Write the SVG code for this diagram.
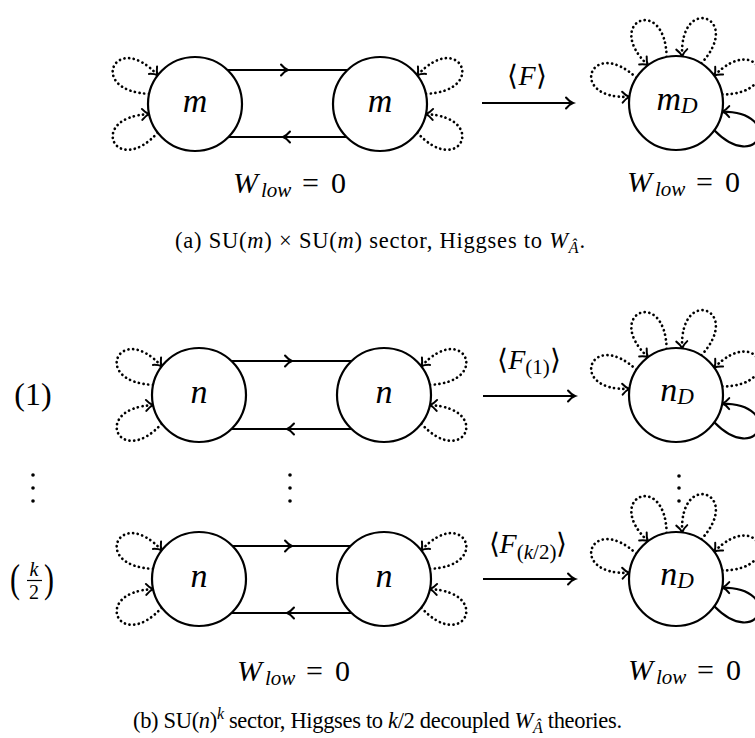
<svg xmlns="http://www.w3.org/2000/svg" width="755" height="738" viewBox="0 0 755 738">
<style>
.nd{fill:#fff;stroke:#000;stroke-width:2.2}
.ln{fill:none;stroke:#000;stroke-width:2.2}
.mid{marker-mid:url(#ah)}
.dt{fill:none;stroke:#000;stroke-width:2.7;stroke-dasharray:0.1 4.6;stroke-linecap:round;marker-end:url(#ah)}
.sl{fill:none;stroke:#000;stroke-width:2.2;marker-end:url(#ah)}
text{font-family:"Liberation Serif","Times New Roman",serif;fill:#000}
.i{font-style:italic}
.dot{fill:#000}
</style>
<defs>
<marker id="ah" markerUnits="userSpaceOnUse" markerWidth="14" markerHeight="14" refX="0" refY="0" orient="auto" overflow="visible">
<path d="M-7,-5.5 C-4.5,-2.5 -2,-0.7 0,0 C-2,0.7 -4.5,2.5 -7,5.5" fill="none" stroke="#000" stroke-width="2" stroke-linecap="round" stroke-dasharray="none"/>
</marker>
<path id="lp" d="M45.9,-10.2 C104,-34.5 104,34.5 45.9,10.2"/>
</defs>

<g id="connectors">
<!-- (a) row -->
<path class="ln mid" d="M228,70 H288 H347"/>
<path class="ln mid" d="M347,137 H283 H228"/>
<path class="sl" d="M482,103 H573"/>
<use href="#lp" class="dt" transform="translate(195,104) rotate(-155)"/>
<use href="#lp" class="dt" transform="translate(195,104) rotate(155)"/>
<use href="#lp" class="dt" transform="translate(380,104) rotate(-25) scale(1,-1)"/>
<use href="#lp" class="dt" transform="translate(380,104) rotate(25) scale(1,-1)"/>
<use href="#lp" class="dt" transform="translate(676,103) rotate(-160) scale(1,-1)"/>
<use href="#lp" class="dt" transform="translate(676,103) rotate(-114) scale(1,-1)"/>
<use href="#lp" class="dt" transform="translate(676,103) rotate(-70) scale(1,-1)"/>
<use href="#lp" class="dt" transform="translate(676,103) rotate(-23) scale(1,-1)"/>
<use href="#lp" class="sl" transform="translate(676,103) rotate(23) scale(1,-1)"/>
<!-- (b) row 1 -->
<path class="ln mid" d="M232,361 H292 H351"/>
<path class="ln mid" d="M351,429 H287 H232"/>
<path class="sl" d="M483,396 H575"/>
<use href="#lp" class="dt" transform="translate(199,395) rotate(-155)"/>
<use href="#lp" class="dt" transform="translate(199,395) rotate(155)"/>
<use href="#lp" class="dt" transform="translate(384,395) rotate(-25) scale(1,-1)"/>
<use href="#lp" class="dt" transform="translate(384,395) rotate(25) scale(1,-1)"/>
<use href="#lp" class="dt" transform="translate(676,395) rotate(-160) scale(1,-1)"/>
<use href="#lp" class="dt" transform="translate(676,395) rotate(-114) scale(1,-1)"/>
<use href="#lp" class="dt" transform="translate(676,395) rotate(-70) scale(1,-1)"/>
<use href="#lp" class="dt" transform="translate(676,395) rotate(-23) scale(1,-1)"/>
<use href="#lp" class="sl" transform="translate(676,395) rotate(23) scale(1,-1)"/>
<!-- (b) row k/2 -->
<path class="ln mid" d="M232,546 H292 H351"/>
<path class="ln mid" d="M351,613 H287 H232"/>
<path class="sl" d="M483,579 H575"/>
<use href="#lp" class="dt" transform="translate(199,579) rotate(-155)"/>
<use href="#lp" class="dt" transform="translate(199,579) rotate(155)"/>
<use href="#lp" class="dt" transform="translate(384,579) rotate(-25) scale(1,-1)"/>
<use href="#lp" class="dt" transform="translate(384,579) rotate(25) scale(1,-1)"/>
<use href="#lp" class="dt" transform="translate(676,579) rotate(-160) scale(1,-1)"/>
<use href="#lp" class="dt" transform="translate(676,579) rotate(-114) scale(1,-1)"/>
<use href="#lp" class="dt" transform="translate(676,579) rotate(-70) scale(1,-1)"/>
<use href="#lp" class="dt" transform="translate(676,579) rotate(-23) scale(1,-1)"/>
<use href="#lp" class="sl" transform="translate(676,579) rotate(23) scale(1,-1)"/>
</g>

<!-- nodes (a) -->
<g id="a-m1"><circle class="nd" cx="195" cy="104" r="47"/><text class="i" style="font-size:34px" x="195" y="112" text-anchor="middle">m</text></g>
<g id="a-m2"><circle class="nd" cx="380" cy="104" r="47"/><text class="i" style="font-size:34px" x="380" y="112" text-anchor="middle">m</text></g>
<g id="a-mD"><circle class="nd" cx="676" cy="103" r="47"/><text class="i" style="font-size:34px" x="677" y="110" text-anchor="middle">m<tspan style="font-size:23px" dy="3">D</tspan></text></g>
<g id="a-F"><text style="font-size:28px" x="527" y="85" text-anchor="middle">⟨<tspan class="i">F</tspan>⟩</text></g>
<g id="a-W1"><text class="i" style="font-size:30px" x="233" y="193">W</text><text class="i" style="font-size:21px" x="261" y="197">low</text><text style="font-size:30px" x="310.5" y="193" text-anchor="middle">=</text><text style="font-size:30px" x="338.5" y="193" text-anchor="middle">0</text></g>
<g id="a-W2"><text class="i" style="font-size:30px" x="627" y="192">W</text><text class="i" style="font-size:21px" x="655" y="196">low</text><text style="font-size:30px" x="704.5" y="192" text-anchor="middle">=</text><text style="font-size:30px" x="732.5" y="192" text-anchor="middle">0</text></g>
<g id="cap-a"><text style="font-size:22.5px" x="175" y="248" textLength="410" lengthAdjust="spacing">(a) SU(<tspan class="i">m</tspan>) × SU(<tspan class="i">m</tspan>) sector, Higgses to <tspan class="i">W</tspan><tspan class="i" style="font-size:16px" dy="5">Â</tspan><tspan dy="-5">.</tspan></text></g>

<!-- nodes (b) row 1 -->
<g id="b1-label"><text style="font-size:32px" x="33" y="405" text-anchor="middle">(1)</text></g>
<g id="b1-n1"><circle class="nd" cx="199" cy="395" r="47"/><text class="i" style="font-size:34px" x="199" y="403" text-anchor="middle">n</text></g>
<g id="b1-n2"><circle class="nd" cx="384" cy="395" r="47"/><text class="i" style="font-size:34px" x="384" y="403" text-anchor="middle">n</text></g>
<g id="b1-nD"><circle class="nd" cx="676" cy="395" r="47"/><text class="i" style="font-size:34px" x="677" y="401" text-anchor="middle">n<tspan style="font-size:23px" dy="3">D</tspan></text></g>
<g id="b1-F"><text style="font-size:28px" x="529" y="369" text-anchor="middle">⟨<tspan class="i">F</tspan><tspan style="font-size:21px" dy="5">(1)</tspan><tspan dy="-5">⟩</tspan></text></g>

<!-- vertical dots -->
<g id="vdots">
<circle class="dot" cx="33" cy="475" r="1.8"/><circle class="dot" cx="33" cy="488" r="1.8"/><circle class="dot" cx="33" cy="501" r="1.8"/>
<circle class="dot" cx="290" cy="475" r="1.8"/><circle class="dot" cx="290" cy="488" r="1.8"/><circle class="dot" cx="290" cy="501" r="1.8"/>
<circle class="dot" cx="679" cy="476" r="1.8"/><circle class="dot" cx="679" cy="488" r="1.8"/><circle class="dot" cx="679" cy="501" r="1.8"/>
</g>

<!-- nodes (b) row k/2 -->
<g id="b2-label"><text style="font-size:30px" x="15" y="0" text-anchor="middle" transform="translate(0,592) scale(1,1.35)">(</text><text class="i" style="font-size:20px" x="34" y="576" text-anchor="middle">k</text><line x1="27" y1="580.5" x2="42" y2="580.5" stroke="#000" stroke-width="1.2"/><text style="font-size:20px" x="34" y="599" text-anchor="middle">2</text><text style="font-size:30px" x="49" y="0" text-anchor="middle" transform="translate(0,592) scale(1,1.35)">)</text></g>
<g id="b2-n1"><circle class="nd" cx="199" cy="579" r="47"/><text class="i" style="font-size:34px" x="199" y="587" text-anchor="middle">n</text></g>
<g id="b2-n2"><circle class="nd" cx="384" cy="579" r="47"/><text class="i" style="font-size:34px" x="384" y="587" text-anchor="middle">n</text></g>
<g id="b2-nD"><circle class="nd" cx="676" cy="579" r="47"/><text class="i" style="font-size:34px" x="677" y="585" text-anchor="middle">n<tspan style="font-size:23px" dy="3">D</tspan></text></g>
<g id="b2-F"><text style="font-size:28px" x="528" y="553" text-anchor="middle">⟨<tspan class="i">F</tspan><tspan style="font-size:21px" dy="6">(<tspan class="i">k</tspan>/2)</tspan><tspan dy="-6">⟩</tspan></text></g>
<g id="b-W1"><text class="i" style="font-size:30px" x="237" y="681">W</text><text class="i" style="font-size:21px" x="265" y="685">low</text><text style="font-size:30px" x="314.5" y="681" text-anchor="middle">=</text><text style="font-size:30px" x="342.5" y="681" text-anchor="middle">0</text></g>
<g id="b-W2"><text class="i" style="font-size:30px" x="628" y="680">W</text><text class="i" style="font-size:21px" x="656" y="684">low</text><text style="font-size:30px" x="705.5" y="680" text-anchor="middle">=</text><text style="font-size:30px" x="733.5" y="680" text-anchor="middle">0</text></g>
<g id="cap-b"><text style="font-size:22.5px" x="133" y="728" textLength="489" lengthAdjust="spacing">(b) SU(<tspan class="i">n</tspan>)<tspan class="i" style="font-size:16px" dy="-9">k</tspan><tspan dy="9"> sector, Higgses to </tspan><tspan class="i">k</tspan>/2 decoupled <tspan class="i">W</tspan><tspan class="i" style="font-size:16px" dy="5">Â</tspan><tspan dy="-5"> theories.</tspan></text></g>
</svg>
